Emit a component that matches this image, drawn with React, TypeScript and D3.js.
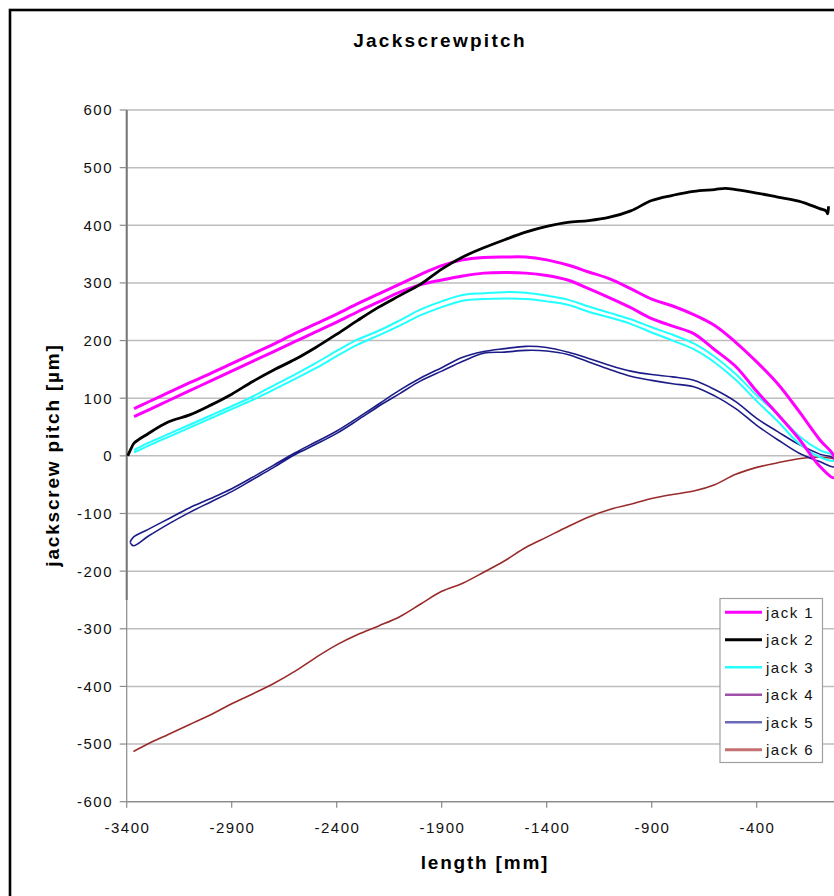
import React from "react";
import * as d3 from "d3";

type Pt = [number, number];

const X_TICKS = [-3400, -2900, -2400, -1900, -1400, -900, -400];
const Y_TICKS = [600, 500, 400, 300, 200, 100, 0, -100, -200, -300, -400, -500, -600];

const LEGEND_LABELS = ["jack 1", "jack 2", "jack 3", "jack 4", "jack 5", "jack 6"];

// jack 1: outgoing / returning pass (closed loop at left)
const jack1Out: Pt[] = [
  [-3365, 82], [-3300, 93], [-3200, 110], [-3100, 127], [-3000, 143], [-2900, 160],
  [-2800, 177], [-2700, 194], [-2600, 212], [-2500, 229], [-2400, 246], [-2300, 264],
  [-2200, 281], [-2100, 298], [-2000, 315], [-1900, 330], [-1800, 340], [-1700, 344],
  [-1600, 345], [-1500, 345], [-1400, 340], [-1300, 331], [-1200, 319], [-1100, 307],
  [-1000, 290], [-900, 272], [-800, 260], [-700, 245], [-600, 226], [-500, 197],
  [-400, 163], [-300, 125], [-200, 78], [-100, 28], [-30, -2],
];
const jack1Ret: Pt[] = [
  [-3365, 68], [-3300, 79], [-3200, 96], [-3100, 113], [-3000, 130], [-2900, 147],
  [-2800, 164], [-2700, 181], [-2600, 198], [-2500, 215], [-2400, 232], [-2300, 250],
  [-2200, 267], [-2100, 284], [-2000, 297], [-1900, 305], [-1800, 312], [-1700, 317],
  [-1600, 318], [-1500, 317], [-1400, 313], [-1300, 305], [-1200, 290], [-1100, 274],
  [-1000, 257], [-900, 238], [-800, 225], [-700, 212], [-600, 184], [-500, 155],
  [-400, 112], [-300, 72], [-200, 30], [-100, -18], [-30, -38],
];

// jack 2
const jack2: Pt[] = [
  [-3395, 0], [-3380, 12], [-3365, 22], [-3300, 38], [-3200, 59], [-3100, 71],
  [-3000, 88], [-2900, 107], [-2800, 129], [-2700, 149], [-2600, 167], [-2500, 188],
  [-2400, 211], [-2300, 235], [-2200, 258], [-2100, 278], [-2000, 298], [-1900, 324],
  [-1800, 345], [-1700, 361], [-1600, 375], [-1500, 388], [-1400, 398], [-1300, 405],
  [-1200, 408], [-1100, 414], [-1000, 425], [-900, 443], [-800, 452], [-700, 459],
  [-600, 462], [-550, 464], [-500, 462], [-400, 456], [-300, 449], [-200, 442],
  [-100, 429], [-70, 425], [-62, 420], [-58, 433],
];

// jack 3: outgoing / returning pass
const jack3Out: Pt[] = [
  [-3365, 10], [-3300, 22], [-3200, 38], [-3100, 54], [-3000, 70], [-2900, 86],
  [-2800, 103], [-2700, 122], [-2600, 141], [-2500, 161], [-2400, 182], [-2300, 202],
  [-2200, 217], [-2100, 235], [-2000, 254], [-1900, 268], [-1800, 279], [-1700, 282],
  [-1600, 284], [-1500, 283], [-1400, 278], [-1300, 271], [-1200, 259], [-1100, 248],
  [-1000, 237], [-900, 223], [-800, 210], [-700, 195], [-600, 172], [-500, 142],
  [-400, 105], [-300, 72], [-200, 35], [-100, 10], [-30, 0],
];
const jack3Ret: Pt[] = [
  [-3365, 6], [-3300, 17], [-3200, 33], [-3100, 49], [-3000, 65], [-2900, 81],
  [-2800, 97], [-2700, 115], [-2600, 133], [-2500, 152], [-2400, 173], [-2300, 193],
  [-2200, 209], [-2100, 226], [-2000, 244], [-1900, 258], [-1800, 269], [-1700, 272],
  [-1600, 273], [-1500, 272], [-1400, 268], [-1300, 262], [-1200, 250], [-1100, 240],
  [-1000, 229], [-900, 214], [-800, 200], [-700, 185], [-600, 162], [-500, 132],
  [-400, 95], [-300, 60], [-200, 22], [-100, -2], [-30, -8],
];

// jack 4 (no visible trace)
const jack4: Pt[] = [];

// jack 5: outgoing / returning pass
const jack5Out: Pt[] = [
  [-3384, -150], [-3368, -141], [-3300, -128], [-3200, -109], [-3100, -90], [-3000, -74],
  [-2900, -57], [-2800, -37], [-2700, -16], [-2600, 5], [-2500, 24], [-2400, 43],
  [-2300, 66], [-2200, 90], [-2100, 114], [-2000, 135], [-1900, 153], [-1800, 171],
  [-1700, 181], [-1600, 186], [-1500, 190], [-1400, 188], [-1300, 180], [-1200, 169],
  [-1100, 157], [-1000, 147], [-900, 141], [-800, 137], [-700, 131], [-600, 115],
  [-500, 94], [-400, 65], [-300, 42], [-200, 20], [-100, 3], [-30, -5],
];
const jack5Ret: Pt[] = [
  [-3384, -150], [-3368, -156], [-3300, -140], [-3200, -118], [-3100, -98], [-3000, -80],
  [-2900, -62], [-2800, -41], [-2700, -20], [-2600, 2], [-2500, 20], [-2400, 39],
  [-2300, 62], [-2200, 86], [-2100, 108], [-2000, 130], [-1900, 147], [-1800, 164],
  [-1700, 178], [-1600, 180], [-1500, 183], [-1400, 182], [-1300, 176], [-1200, 163],
  [-1100, 150], [-1000, 138], [-900, 131], [-800, 125], [-700, 120], [-600, 104],
  [-500, 82], [-400, 53], [-300, 28], [-200, 5], [-100, -10], [-30, -19],
];

// jack 6
const jack6: Pt[] = [
  [-3368, -513], [-3300, -500], [-3200, -483], [-3100, -466], [-3000, -449], [-2900, -430],
  [-2800, -413], [-2700, -395], [-2600, -374], [-2500, -350], [-2400, -328], [-2300, -310],
  [-2200, -295], [-2100, -279], [-2000, -257], [-1900, -235], [-1800, -221], [-1700, -202],
  [-1600, -182], [-1500, -159], [-1400, -141], [-1300, -123], [-1200, -106], [-1100, -93],
  [-1000, -84], [-900, -74], [-800, -67], [-700, -61], [-600, -50], [-500, -32],
  [-400, -20], [-300, -12], [-200, -5], [-100, -2], [-30, -5],
];

const COLORS = ["#ff00ff", "#000000", "#22ffff", "#800080", "#1c1c88", "#992b2b"];
const WIDTHS = [3, 2.8, 2, 1.6, 1.6, 1.6];
const LEGEND_COLORS = ["#ff00ff", "#000000", "#22ffff", "#a050a8", "#6a6ab8", "#c47070"];
const LEGEND_WIDTHS = [3, 3, 2.5, 2.5, 2.5, 3];

const W = 834;
const H = 896;

export default function App() {
  const x = d3.scaleLinear().domain([-3400, 0]).range([126.7, 840.7]);
  const y = d3.scaleLinear().domain([-600, 600]).range([801.7, 110]);
  const line = d3
    .line<Pt>()
    .x((d) => x(d[0]))
    .y((d) => y(d[1]))
    .curve(d3.curveCatmullRom.alpha(0.5));

  const loop = (a: Pt[], b: Pt[]) => a.concat(b.slice().reverse());
  const series: Pt[][] = [
    loop(jack1Out, jack1Ret),
    jack2,
    loop(jack3Out, jack3Ret),
    jack4,
    loop(jack5Out, jack5Ret),
    jack6,
  ];
  // draw order: bottom first
  const order = [5, 4, 3, 2, 0, 1];

  const x0 = x(-3400);
  const font = "'Liberation Sans', Arial, Helvetica, sans-serif";

  return (
    <svg
      width={W}
      height={H}
      viewBox={`0 0 ${W} ${H}`}
      style={{ position: "fixed", left: 0, top: 0, background: "#fff" }}
      fontFamily={font}
    >
      <rect x={0} y={0} width={W} height={H} fill="#ffffff" />
      <rect x={10} y={10} width={W + 40} height={H + 40} fill="none" stroke="#000" strokeWidth={2.6} />

      {/* title */}
      <text x={440} y={47} textAnchor="middle" fontSize={19} fontWeight="bold" letterSpacing={2.3}>
        Jackscrewpitch
      </text>

      {/* gridlines */}
      {Y_TICKS.map((t) => (
        <line key={"g" + t} x1={x0} x2={W} y1={y(t)} y2={y(t)} stroke="#bdbdbd" strokeWidth={1.5} />
      ))}

      {/* y axis */}
      <line x1={x0} x2={x0} y1={y(600)} y2={y(-600)} stroke="#8a8a8a" strokeWidth={1.2} />
      <line x1={x0} x2={x0} y1={y(600)} y2={y(-250)} stroke="#777" strokeWidth={2} />
      {Y_TICKS.map((t) => (
        <g key={"yt" + t}>
          <line x1={x0 - 7} x2={x0} y1={y(t)} y2={y(t)} stroke="#8a8a8a" strokeWidth={1.2} />
          <text x={113} y={y(t) + 5.4} textAnchor="end" fontSize={15} letterSpacing={1.5} fill="#111">
            {t}
          </text>
        </g>
      ))}

      {/* x axis */}
      <line x1={x0} x2={W} y1={y(-600)} y2={y(-600)} stroke="#8a8a8a" strokeWidth={1.2} />
      {X_TICKS.map((t) => (
        <g key={"xt" + t}>
          <line x1={x(t)} x2={x(t)} y1={y(-600)} y2={y(-600) + 6} stroke="#8a8a8a" strokeWidth={1.2} />
          <text x={x(t) + 0.75} y={833} textAnchor="middle" fontSize={15} letterSpacing={1.5} fill="#111">
            {t}
          </text>
        </g>
      ))}

      {/* axis titles */}
      <text x={485} y={869} textAnchor="middle" fontSize={19} fontWeight="bold" letterSpacing={1.8}>
        length [mm]
      </text>
      <text
        transform={`translate(59,455) rotate(-90)`}
        textAnchor="middle"
        fontSize={19}
        fontWeight="bold"
        letterSpacing={1.8}
      >
        jackscrew pitch [µm]
      </text>

      {/* series */}
      {order.map((i) =>
        series[i].length ? (
          <path
            key={"s" + i}
            d={line(series[i]) || ""}
            fill="none"
            stroke={COLORS[i]}
            strokeWidth={WIDTHS[i]}
            strokeLinejoin="round"
          />
        ) : null
      )}

      {/* legend */}
      <rect x={720} y={598.5} width={102.5} height={164} fill="#fff" stroke="#a0a0a0" strokeWidth={1.2} />
      {LEGEND_LABELS.map((lab, i) => {
        const ly = 612.3 + i * 27.5;
        return (
          <g key={"l" + i}>
            <line x1={725} x2={762} y1={ly} y2={ly} stroke={LEGEND_COLORS[i]} strokeWidth={LEGEND_WIDTHS[i]} />
            <text x={766} y={ly + 5.4} fontSize={15} letterSpacing={1.5} fill="#111">
              {lab}
            </text>
          </g>
        );
      })}
    </svg>
  );
}
